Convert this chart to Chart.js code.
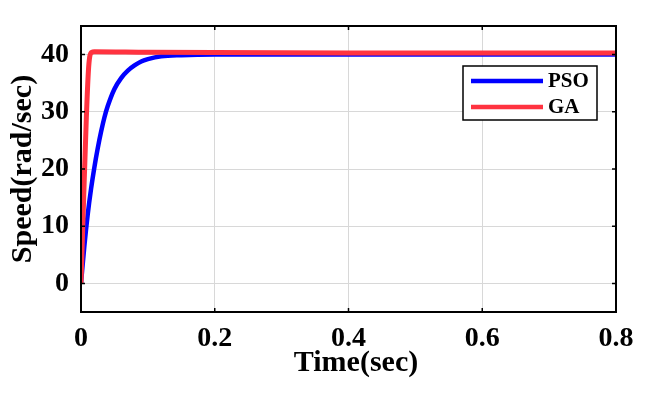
<!DOCTYPE html>
<html>
<head>
<meta charset="utf-8">
<script src="https://cdn.jsdelivr.net/npm/chart.js@4.4.0/dist/chart.umd.min.js"></script>
<style>
  html, body { margin: 0; padding: 0; background: #fff; }
</style>
</head>
<body>
<canvas id="speed-chart" width="650" height="394"></canvas>
<script>
// 데이터
var psoTime  = [0, 0.005, 0.01, 0.015, 0.02, 0.025, 0.03, 0.035, 0.04, 0.05, 0.06, 0.07, 0.08, 0.09, 0.1, 0.12, 0.15, 0.2, 0.8];
var psoSpeed = [0, 6.5, 12, 16.5, 20.3, 23.6, 26.5, 29, 31, 34, 35.9, 37.2, 38.1, 38.8, 39.2, 39.7, 39.9, 40, 40];
var gaTime   = [0, 0.004, 0.008, 0.011, 0.013, 0.016, 0.02, 0.1, 0.4, 0.8];
var gaSpeed  = [0, 15, 29, 37, 39.6, 40.4, 40.5, 40.4, 40.3, 40.3];
var seriesNames = ["PSO", "GA"];
var seriesColors = ["#0000ff", "#ff3340"];
var xTicks = [0, 0.2, 0.4, 0.6, 0.8];
var yTicks = [0, 10, 20, 30, 40];

function toPoints(xs, ys){
  return xs.map(function(x, i){ return {x: x, y: ys[i]}; });
}

var serif = "'Liberation Serif', 'Times New Roman', serif";

// 안쪽 눈금 + 테두리 + 범례
var framePlugin = {
  id: 'frame',
  afterDraw: function(chart){
    var ctx = chart.ctx, a = chart.chartArea;
    var xs = chart.scales.x, ys = chart.scales.y;
    ctx.save();
    ctx.strokeStyle = '#000';
    ctx.lineWidth = 1.5;
    ctx.beginPath();
    yTicks.forEach(function(v){
      var py = ys.getPixelForValue(v);
      ctx.moveTo(a.left, py); ctx.lineTo(a.left + 4, py);
      ctx.moveTo(a.right, py); ctx.lineTo(a.right - 4, py);
    });
    xTicks.forEach(function(v){
      var px = xs.getPixelForValue(v);
      ctx.moveTo(px, a.bottom); ctx.lineTo(px, a.bottom - 4);
      ctx.moveTo(px, a.top); ctx.lineTo(px, a.top + 4);
    });
    ctx.stroke();
    ctx.lineWidth = 2;
    ctx.strokeRect(a.left, a.top, a.right - a.left, a.bottom - a.top);

    // 범례
    var bx = 463, by = 66, bw = 134, bh = 54;
    ctx.fillStyle = '#fff';
    ctx.fillRect(bx, by, bw, bh);
    ctx.lineWidth = 1.5;
    ctx.strokeRect(bx, by, bw, bh);
    ctx.font = "bold 21px " + serif;
    ctx.textBaseline = 'middle';
    seriesNames.forEach(function(name, i){
      var ly = by + 15 + i * 26;
      ctx.strokeStyle = seriesColors[i];
      ctx.lineWidth = 4.5;
      ctx.beginPath();
      ctx.moveTo(bx + 8, ly); ctx.lineTo(bx + 80, ly);
      ctx.stroke();
      ctx.fillStyle = '#000';
      ctx.fillText(name, bx + 85, ly + 1);
    });
    ctx.restore();
  }
};

new Chart(document.getElementById("speed-chart"), {
  type: 'line',
  data: {
    datasets: [
      {
        label: seriesNames[0],
        data: toPoints(psoTime, psoSpeed),
        borderColor: seriesColors[0],
        borderWidth: 4.5,
        pointRadius: 0,
        cubicInterpolationMode: 'monotone',
        order: 1
      },
      {
        label: seriesNames[1],
        data: toPoints(gaTime, gaSpeed),
        borderColor: seriesColors[1],
        borderWidth: 5,
        pointRadius: 0,
        cubicInterpolationMode: 'monotone',
        order: 0
      }
    ]
  },
  options: {
    responsive: false,
    animation: false,
    layout: { padding: { left: 0, right: 34, top: 16, bottom: 0 } },
    plugins: { legend: { display: false }, tooltip: { enabled: false } },
    scales: {
      x: {
        type: 'linear',
        min: 0, max: 0.8,
        afterBuildTicks: function(s){ s.ticks = xTicks.map(function(v){ return {value: v}; }); },
        afterFit: function(s){ s.height = 82; },
        grid: { color: '#d8d8d8', drawTicks: false },
        border: { display: false },
        ticks: {
          color: '#000', padding: 13, maxRotation: 0,
          font: { family: serif, size: 28, weight: 'bold', lineHeight: 1 },
          callback: function(v){ return String(v); }
        },
        title: {
          display: true, text: '  Time(sec)', color: '#000',
          font: { family: serif, size: 30, weight: 'bold', lineHeight: 1.2 },
          padding: { top: 0, bottom: 13 }
        }
      },
      y: {
        min: -5, max: 45,
        afterBuildTicks: function(s){ s.ticks = yTicks.map(function(v){ return {value: v}; }); },
        afterFit: function(s){ s.width = 81; },
        grid: { color: '#d8d8d8', drawTicks: false },
        border: { display: false },
        ticks: {
          color: '#000', padding: 12,
          font: { family: serif, size: 28, weight: 'bold', lineHeight: 1 }
        },
        title: {
          display: true, text: 'Speed(rad/sec)', color: '#000',
          font: { family: serif, size: 30, weight: 'bold', lineHeight: 1.2 },
          padding: { top: 5, bottom: 0 }
        }
      }
    }
  },
  plugins: [framePlugin]
});
</script>
</body>
</html>
